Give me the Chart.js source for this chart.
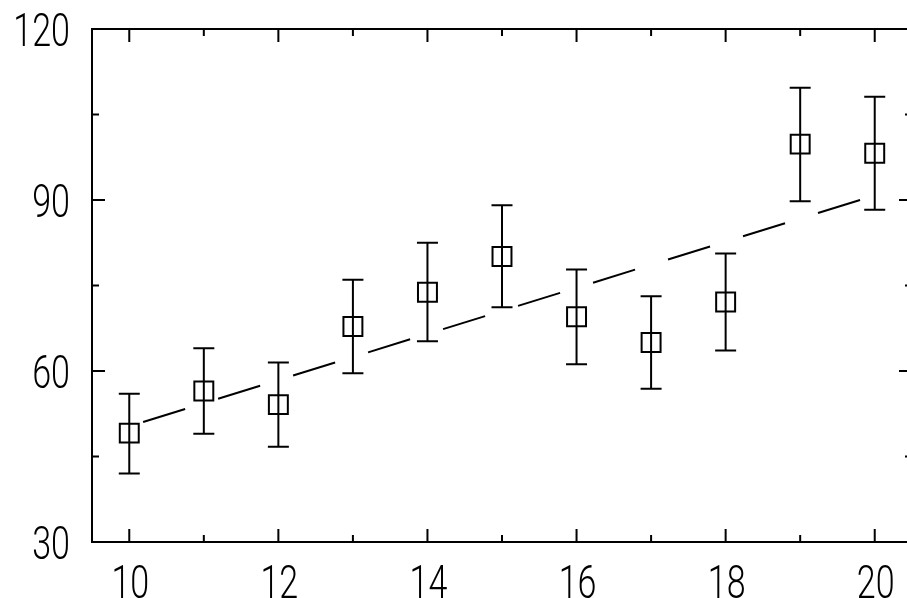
<!DOCTYPE html>
<html>
<head>
<meta charset="utf-8">
<script src="https://cdn.jsdelivr.net/npm/chart.js@4.4.1/dist/chart.umd.min.js"></script>
<style>
  html, body { margin: 0; padding: 0; background: #fff; overflow: hidden; width: 907px; height: 598px; }
  canvas { display: block; }
</style>
</head>
<body>
<canvas id="chart" width="920" height="598"></canvas>
<script>
'use strict';

// measured values
const xVals = [10, 11, 12, 13, 14, 15, 16, 17, 18, 19, 20];
const yVals = [49.1, 56.5, 54.1, 67.8, 73.8, 80.1, 69.5, 65.0, 72.1, 99.8, 98.2];
const yHigh = [56.0, 64.0, 61.5, 76.0, 82.5, 89.1, 77.8, 73.1, 80.6, 109.7, 108.1];
const yLow = [42.0, 49.0, 46.7, 59.6, 65.2, 71.2, 61.2, 56.9, 63.6, 89.8, 88.3];

// fitted line end points
const fitX = [10, 20];
const fitY = [50.3, 90.8];

// tick marks
const xMajor = [10, 12, 14, 16, 18, 20];
const xMinor = [11, 13, 15, 17, 19];
const yMajor = [30, 60, 90, 120];
const yMinor = [45, 75, 105];

let canvasElem = document.getElementById('chart');

// error bars, drawn after the fit line and under the squares
const errorBars = {
    id: 'errorBars',
    afterDatasetDraw(chart, args) {
        if (args.index !== 0) return;
        const ctx = chart.ctx;
        const xs = chart.scales.x, ys = chart.scales.y;
        ctx.save();
        ctx.strokeStyle = '#000';
        ctx.lineWidth = 2;
        ctx.setLineDash([]);
        for (let i = 0; i < xVals.length; i++) {
            const px = xs.getPixelForValue(xVals[i]);
            const top = ys.getPixelForValue(yHigh[i]);
            const bot = ys.getPixelForValue(yLow[i]);
            ctx.beginPath();
            ctx.moveTo(px, top); ctx.lineTo(px, bot);
            ctx.moveTo(px - 10.5, top); ctx.lineTo(px + 10.5, top);
            ctx.moveTo(px - 10.5, bot); ctx.lineTo(px + 10.5, bot);
            ctx.stroke();
        }
        ctx.restore();
    }
};

// box frame, inward ticks on all four sides, narrow tick labels
const frameTicks = {
    id: 'frameTicks',
    afterDraw(chart) {
        const ctx = chart.ctx;
        const a = chart.chartArea;
        const xs = chart.scales.x, ys = chart.scales.y;
        ctx.save();
        ctx.strokeStyle = '#000';
        ctx.lineWidth = 2;
        ctx.setLineDash([]);
        ctx.strokeRect(a.left, a.top, a.right - a.left, a.bottom - a.top);
        ctx.beginPath();
        const xt = (vals, len) => vals.forEach(v => {
            const p = xs.getPixelForValue(v);
            ctx.moveTo(p, a.bottom); ctx.lineTo(p, a.bottom - len);
            ctx.moveTo(p, a.top); ctx.lineTo(p, a.top + len);
        });
        const yt = (vals, len) => vals.forEach(v => {
            const p = ys.getPixelForValue(v);
            ctx.moveTo(a.left, p); ctx.lineTo(a.left + len, p);
            ctx.moveTo(a.right, p); ctx.lineTo(a.right - len, p);
        });
        xt(xMajor, 13); xt(xMinor, 7);
        yt(yMajor, 13); yt(yMinor, 7);
        ctx.stroke();

        // labels, squeezed sideways like the original plotting font
        const sx = 0.74;
        ctx.fillStyle = '#000';
        ctx.font = '300 46px Roboto, "Noto Sans", sans-serif';
        ctx.textBaseline = 'alphabetic';
        ctx.scale(sx, 1);
        ctx.textAlign = 'right';
        ys.ticks.forEach(t => {
            ctx.fillText(String(t.value), (a.left - 22) / sx, ys.getPixelForValue(t.value) + 16.5);
        });
        ctx.textAlign = 'center';
        xs.ticks.forEach(t => {
            ctx.fillText(String(t.value), (xs.getPixelForValue(t.value) + 1) / sx, a.bottom + 56);
        });
        ctx.restore();
    }
};

function renderChart() {
    const points = xVals.map((x, i) => ({ x: x, y: yVals[i] }));
    const fit = fitX.map((x, i) => ({ x: x, y: fitY[i] }));

    let chart = {
        type: 'scatter',
        data: {
            datasets: [
                {
                    type: 'line',
                    label: 'fit',
                    data: fit,
                    borderColor: '#000',
                    borderWidth: 2,
                    borderDash: [44, 34.5],
                    borderDashOffset: 64,
                    pointRadius: 0,
                    fill: false
                },
                {
                    label: 'data',
                    data: points,
                    pointStyle: 'rect',
                    pointRadius: 13.4,
                    pointHoverRadius: 13.4,
                    pointBackgroundColor: '#fff',
                    pointBorderColor: '#000',
                    pointBorderWidth: 2
                }
            ]
        },
        options: {
            responsive: false,
            devicePixelRatio: 1,
            animation: false,
            // canvas is a bit wider than the window so the right frame edge falls just off-screen
            layout: { autoPadding: false, padding: { top: 29, right: 8, left: 0, bottom: 0 } },
            plugins: { legend: { display: false }, tooltip: { enabled: false } },
            scales: {
                x: {
                    type: 'linear',
                    min: 9.5,
                    max: 20.5,
                    afterBuildTicks: s => { s.ticks = xMajor.map(v => ({ value: v })); },
                    afterFit: s => { s.height = 56; s.paddingLeft = 0; s.paddingRight = 0; },
                    grid: { display: false, drawTicks: false },
                    border: { display: false },
                    ticks: { display: false }
                },
                y: {
                    min: 30,
                    max: 120,
                    afterBuildTicks: s => { s.ticks = yMajor.map(v => ({ value: v })); },
                    afterFit: s => { s.width = 92; s.paddingTop = 0; s.paddingBottom = 0; },
                    grid: { display: false, drawTicks: false },
                    border: { display: false },
                    ticks: { display: false }
                }
            }
        },
        plugins: [errorBars, frameTicks]
    };
    new Chart(canvasElem, chart);
}

renderChart();
</script>
</body>
</html>
